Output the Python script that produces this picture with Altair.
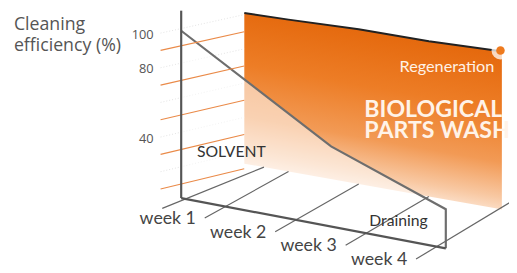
import altair as alt
import pandas as pd

# ---------------- data ----------------
weeks = ["week 1", "week 2", "week 3", "week 4"]
week_pos = [1, 2, 3, 4]
tick_labels = ["100", "80", "40"]
tick_values = [100, 80, 40]
grid_values = [20, 40, 60, 80, 100]
faint_values = [30, 50, 70, 90, 110]
# solvent cleaning efficiency (time in weeks, value %)
solvent_t = [0.37, 2.5, 4.13, 4.13]
solvent_v = [100, 45, 21, 0]
# biological parts washer efficiency
bio_t = [0.37, 1, 2, 3, 3.95, 4.04]
bio_v = [100, 99, 98, 95.6, 94.7, 94.5]
regen_t = [4.02]
regen_v = [95]

# ---------------- pseudo-3D projection ----------------
T0 = 0.37
def P(t, v, d):
    xf = 229 + 71.5 * (t - 1)
    xb = 293 + 71.3 * (t - 1)
    yf = 199 + 0.19 * (xf - 184)
    yb = 164 + 0.178 * (xb - 248)
    x = xf + d * (xb - xf)
    base = yf + d * (yb - yf)
    s = (1.70 + d * (1.53 - 1.70)) * (1 + 0.03 * (t - T0))
    return x, base - v * s

def wall(v, side):
    return (163, 225 - 1.76 * v) if side == 0 else (248, 204 - 1.74 * v)

xs = alt.Scale(domain=[8, 517], range=[0, 509], nice=False, zero=False)
ys = alt.Scale(domain=[8, 273], reverse=True, nice=False, zero=False)
X = lambda f: alt.X(f, type="quantitative", scale=xs, axis=None)
Y = lambda f: alt.Y(f, type="quantitative", scale=ys, axis=None)

# orange panel
prow = []
for i, (t, v) in enumerate(zip(bio_t, bio_v)):
    x, y = P(t, v, 1)
    _, y0 = P(t, 0, 1)
    prow.append({"i": i, "x": x, "y": y, "y2": y0})
panel_df = pd.DataFrame(prow)
grad = {
    "gradient": "linear", "x1": 0.235, "y1": 0, "x2": 0, "y2": 1,
    "stops": [
        {"offset": 0, "color": "#e4670b"},
        {"offset": 0.3, "color": "#ed7d26"},
        {"offset": 0.55, "color": "#f29a55"},
        {"offset": 0.72, "color": "#f8c8a2"},
        {"offset": 0.86, "color": "#fff6ef"},
        {"offset": 1, "color": "#ffffff"},
    ],
}
panel = alt.Chart(panel_df).mark_area(fill=grad, fillOpacity=1, opacity=1).encode(
    x=X("x"), y=Y("y"), y2=alt.Y2("y2"))
panel_top = alt.Chart(panel_df).mark_line(color="#222222", strokeWidth=2).encode(x=X("x"), y=Y("y"), order="i")

# faint dotted wall lines
frows = []
for v in faint_values:
    a = wall(v, 0); b = wall(v, 1)
    frows.append({"x": a[0], "y": a[1], "x2": b[0], "y2": b[1]})
faint = alt.Chart(pd.DataFrame(frows)).mark_rule(color="#e2e2e2", strokeWidth=1, strokeDash=[1, 2]).encode(
    x=X("x"), y=Y("y"), x2="x2", y2="y2")

# solvent fill (front plane)
srows = []
for i, (t, v) in enumerate(zip(solvent_t[:3], solvent_v[:3])):
    x, y = P(t, v, 0)
    _, y0 = P(t, 0, 0)
    srows.append({"i": i, "x": x, "y": y, "y2": y0})
sfill = alt.Chart(pd.DataFrame(srows)).mark_area(color="white", opacity=0.55).encode(
    x=X("x"), y=Y("y"), y2=alt.Y2("y2"))

slrows = []
for i, (t, v) in enumerate(zip(solvent_t, solvent_v)):
    x, y = P(t, v, 0)
    slrows.append({"i": i, "x": x, "y": y})
sline = alt.Chart(pd.DataFrame(slrows)).mark_line(color="#6e6e6e", strokeWidth=2.2).encode(
    x=X("x"), y=Y("y"), order="i")

# floor week lines
wrows = []
a = P(T0, 0, -0.3); b = P(0.65, 0, 1)
wrows.append({"x": a[0], "y": a[1], "x2": b[0], "y2": b[1]})
for w in week_pos:
    a = P(w, 0, -0.33); b = P(w, 0, 1.2 if w == 4 else 1)
    wrows.append({"x": a[0], "y": a[1], "x2": b[0], "y2": b[1]})
wlines = alt.Chart(pd.DataFrame(wrows)).mark_rule(color="#666666", strokeWidth=1.2).encode(
    x=X("x"), y=Y("y"), x2="x2", y2="y2")

# orange wall grid
grows = []
for v in grid_values:
    a = wall(v, 0); b = wall(v, 1)
    grows.append({"x": a[0], "y": a[1], "x2": b[0], "y2": b[1]})
grid = alt.Chart(pd.DataFrame(grows)).mark_rule(color="#ea8a48", strokeWidth=1.2).encode(
    x=X("x"), y=Y("y"), x2="x2", y2="y2")

# axes
a0 = P(T0, 0, 0); a1 = P(T0, 112, 0); a2 = P(4.13, 0, 0)
axes_df = pd.DataFrame([
    {"x": a0[0], "y": a0[1], "x2": a1[0], "y2": a1[1]},
    {"x": a0[0], "y": a0[1], "x2": a2[0], "y2": a2[1]},
])
axes = alt.Chart(axes_df).mark_rule(color="#555555", strokeWidth=2.2).encode(
    x=X("x"), y=Y("y"), x2="x2", y2="y2")

# regeneration dot
rx, ry = P(regen_t[0], regen_v[0], 1)
rdf = pd.DataFrame([{"x": rx, "y": ry}])
glow = alt.Chart(rdf).mark_circle(color="white", size=330, opacity=0.75).encode(x=X("x"), y=Y("y"))
dot = alt.Chart(rdf).mark_circle(color="#ee7a1e", size=75, opacity=1).encode(x=X("x"), y=Y("y"))

# tick labels
tdf = pd.DataFrame([{"t": l, "x": wall(v, 0)[0] - 7, "y": wall(v, 0)[1] - 12} for l, v in zip(tick_labels, tick_values)])
ticks = alt.Chart(tdf).mark_text(align="right", baseline="alphabetic", font="Open Sans", fontSize=13, color="#555555").encode(
    x=X("x"), y=Y("y"), text="t")

# week labels
wl = []
for lab, w in zip(weeks, week_pos):
    p = P(w, 0, -0.33)
    wl.append({"t": lab, "x": p[0] - 9, "y": p[1] + 6})
wlab = alt.Chart(pd.DataFrame(wl)).mark_text(align="right", baseline="alphabetic", font="Lato", fontSize=18, color="#444444").encode(
    x=X("x"), y=Y("y"), text="t")

# annotations
title_df = pd.DataFrame([{"t": "Cleaning", "x": 14, "y": 28}, {"t": "efficiency (%)", "x": 14, "y": 50}])
title = alt.Chart(title_df).mark_text(align="left", baseline="alphabetic", font="Open Sans", fontSize=18, color="#555555").encode(
    x=X("x"), y=Y("y"), text="t")
dark_df = pd.DataFrame([{"t": "SOLVENT", "x": 200, "y": 157}, {"t": "Draining", "x": 375, "y": 227}])
dark = alt.Chart(dark_df).mark_text(align="left", baseline="alphabetic", font="Lato", fontSize=16, color="#333333").encode(
    x=X("x"), y=Y("y"), text="t")
regen_lab = alt.Chart(pd.DataFrame([{"t": "Regeneration", "x": 502, "y": 71}])).mark_text(
    align="right", baseline="alphabetic", font="Lato", fontSize=16.5, color="#fff2e6").encode(x=X("x"), y=Y("y"), text="t")
big_df = pd.DataFrame([{"t": "BIOLOGICAL", "x": 370, "y": 117}, {"t": "PARTS WASHER", "x": 370, "y": 138}])
big = alt.Chart(big_df).mark_text(align="left", baseline="alphabetic", font="Lato", fontSize=23.5, fontWeight="bold", color="#fff3e8").encode(
    x=X("x"), y=Y("y"), text="t")

chart = alt.layer(
    panel, panel_top, faint, sfill, sline, wlines, grid, axes, glow, dot,
    ticks, wlab, title, dark, regen_lab, big,
).properties(width=509, height=265, padding=0, autosize=alt.AutoSizeParams(type="none")).configure_view(stroke=None)

chart.save("out.html", embed_options={"renderer": "svg", "actions": False})
